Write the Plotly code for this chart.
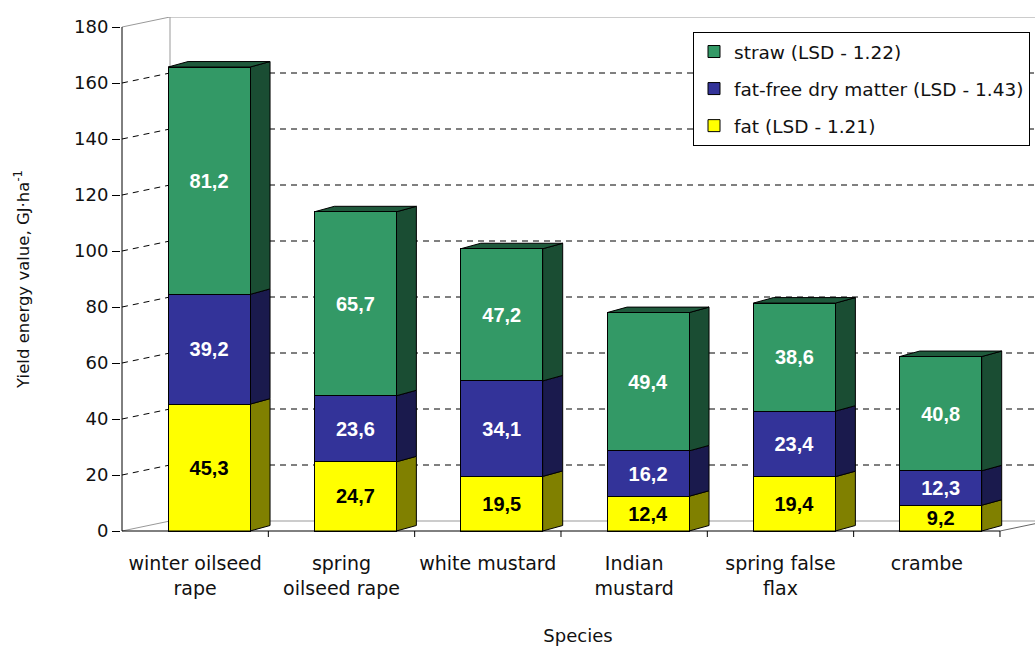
import plotly.graph_objects as go

# ---------------- data ----------------
species = ["winter oilseed<br>rape", "spring<br>oilseed rape", "white mustard",
           "Indian<br>mustard", "spring false<br>flax", "crambe"]
fat = [45.3, 24.7, 19.5, 12.4, 19.4, 9.2]
fat_free = [39.2, 23.6, 34.1, 16.2, 23.4, 12.3]
straw = [81.2, 65.7, 47.2, 49.4, 38.6, 40.8]
series_names = ["fat (LSD - 1.21)", "fat-free dry matter (LSD - 1.43)", "straw (LSD - 1.22)"]
legend_ranks = [3, 2, 1]
y_ticks = list(range(0, 181, 20))

# ---------------- layout geometry ----------------
W, H = 1035, 646
L, R, T, B = 121, 0, 17, 105
plot_w = W - L - R
plot_h = H - T - B
px_x = 146.33            # pixels per category
px_y = 2.8               # pixels per y unit
x_lo = -0.5 - 1 / px_x
x_hi = x_lo + plot_w / px_x
y_lo = -10 / px_y
y_hi = y_lo + plot_h / px_y

# depth offsets (in data units)
dxw, dyw = 48 / px_x, 10 / px_y      # walls
dxb, dyb = 20 / px_x, 5.5 / px_y     # bars
bar_off, bar_w = -0.185, 0.56

front_cols = ["#FFFF00", "#333399", "#339966"]
side_cols = ["#808000", "#1a1a4d", "#1a4d33"]
top_col = "#1f5a3c"
text_cols = ["black", "white", "white"]
txt = "#111111"

fmt = lambda v: f"{v:.1f}".replace(".", ",")

fig = go.Figure()
xs = list(range(len(species)))
for i, vals in enumerate([fat, fat_free, straw]):
    fig.add_trace(go.Bar(
        x=xs, y=vals, name=series_names[i], legendgroup=f"g{i}",
        legendrank=legend_ranks[i],
        offset=bar_off, width=bar_w,
        marker=dict(color=front_cols[i], line=dict(color="black", width=1)),
        text=[fmt(v) for v in vals], textposition="inside", insidetextanchor="middle",
        textangle=0,
        textfont=dict(family="Liberation Sans", size=20, color=text_cols[i], weight="bold"),
        hoverinfo="skip",
    ))

shapes = []
def line(x0, y0, x1, y1, color="black", width=1, dash="solid", layer="below"):
    shapes.append(dict(type="line", xref="x", yref="y", x0=x0, y0=y0, x1=x1, y1=y1,
                       line=dict(color=color, width=width, dash=dash), layer=layer))

gray = "#999999"
xa = -0.5
x_end = x_hi + 1
# gridlines on back and left walls
for v in y_ticks[1:-1]:
    line(xa, v, xa + dxw, v + dyw, dash="6px,5px")
    line(xa + dxw, v + dyw, x_end, v + dyw, dash="6px,5px")
# top edges
line(xa, 180, xa + dxw, 180 + dyw, color=gray)
line(xa + dxw, 180 + dyw, x_end, 180 + dyw, color=gray)
# back-left vertical edge
line(xa + dxw, dyw, xa + dxw, 180 + dyw, color=gray)
# floor
line(xa, 0, xa + dxw, dyw, color=gray)
line(xa + dxw, dyw, x_end, dyw, color=gray)
n = len(species)
line(n - 0.5, 0, n - 0.5 + dxw, dyw, color="#666666")

# 3D faces of bars
for k in xs:
    base = 0
    x0 = k + bar_off
    x1 = x0 + bar_w
    stack = [fat[k], fat_free[k], straw[k]]
    for i, v in enumerate(stack):
        top = base + v
        path = (f"M {x1},{base} L {x1 + dxb},{base + dyb} L {x1 + dxb},{top + dyb} "
                f"L {x1},{top} Z")
        shapes.append(dict(type="path", xref="x", yref="y", path=path,
                           fillcolor=side_cols[i], line=dict(color="black", width=1),
                           layer="below"))
        base = top
    path = (f"M {x0},{base} L {x0 + dxb},{base + dyb} L {x1 + dxb},{base + dyb} "
            f"L {x1},{base} Z")
    shapes.append(dict(type="path", xref="x", yref="y", path=path,
                       fillcolor=top_col, line=dict(color="black", width=1), layer="below"))

# axes lines
line(xa, 0, xa, 180, layer="above")
line(xa, 0, n - 0.5, 0, layer="above")
for k in range(1, n + 1):
    line(k - 0.5, 0, k - 0.5, -6 / px_y, layer="above")

fig.update_layout(
    width=W, height=H,
    margin=dict(l=L, r=R, t=T, b=B, autoexpand=False),
    paper_bgcolor="white", plot_bgcolor="white",
    barmode="stack",
    shapes=shapes,
    uniformtext=dict(minsize=20, mode="show"),
    font=dict(family="DejaVu Sans", size=18, color=txt),
    showlegend=True,
    legend=dict(
        x=(693 - L) / plot_w, y=(H - B - 32) / plot_h, xanchor="left", yanchor="top",
        traceorder="grouped", tracegroupgap=10,
        bordercolor="black", borderwidth=1, bgcolor="white",
        font=dict(family="DejaVu Sans", size=18.5, color=txt),
    ),
    xaxis=dict(
        range=[x_lo, x_hi], tickmode="array", tickvals=xs, ticktext=species,
        ticks="", showgrid=False, zeroline=False, showline=False,
        ticklabelstandoff=9,
        tickfont=dict(family="DejaVu Sans", size=19, color=txt),
        title=dict(text="Species", font=dict(family="DejaVu Sans", size=18, color=txt),
                   standoff=40),
        automargin=False,
    ),
    yaxis=dict(
        range=[y_lo, y_hi], tickmode="array", tickvals=y_ticks,
        ticks="outside", ticklen=8, tickcolor="black", tickwidth=1,
        showgrid=False, zeroline=False, showline=False,
        tickfont=dict(family="DejaVu Sans", size=18, color=txt),
        title=dict(text="Yield energy value, GJ·ha<sup>-1</sup>",
                   font=dict(family="DejaVu Sans", size=16.5, color=txt), standoff=40),
        automargin=False,
    ),
)

fig.write_html("out.html")
